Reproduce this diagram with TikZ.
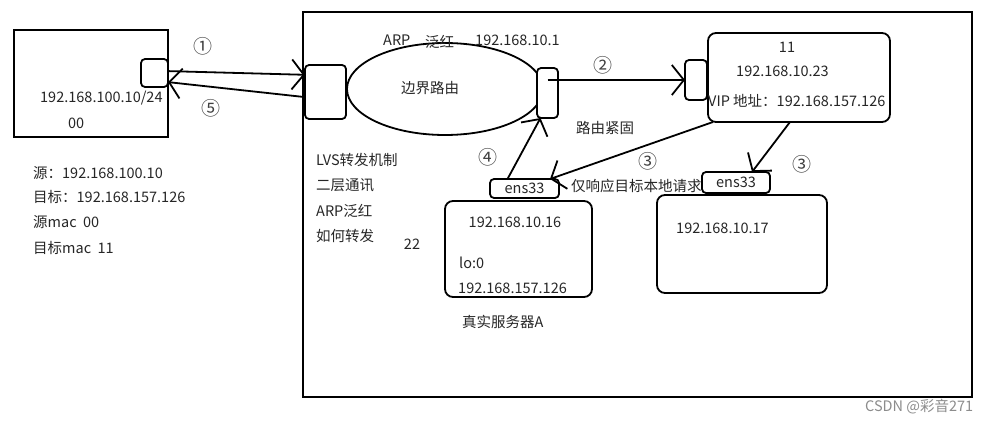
\documentclass[tikz,border=0pt]{standalone}
\usepackage{fontspec}
\setmainfont{Noto Sans CJK SC}
\usepackage{tikz}
\usetikzlibrary{shapes,arrows.meta}
\tikzstyle{ln}=[line width=1.8pt]
\tikzstyle{arr}=[line width=1.8pt, -{Straight Barb[length=12pt, width=30pt, line width=1.8pt]}]
\tikzstyle{bx}=[draw, line width=1.8pt, inner sep=0pt, outer sep=0pt]
\tikzstyle{rbx}=[bx, rounded corners=8pt]
\tikzstyle{port}=[bx, rounded corners=4pt]
\tikzstyle{rt}=[ellipse, bx, minimum width=196pt, minimum height=92pt]
\tikzstyle{txt}=[inner sep=0pt, text=black!85, font=\fontsize{14.5}{16}\selectfont]
\tikzstyle{lt}=[txt, anchor=west]
\tikzstyle{num}=[inner sep=0pt, text=black!75, font=\fontsize{19}{20}\selectfont]

\begin{document}
\begin{tikzpicture}[x=1pt, y=-1pt]
\useasboundingbox (0, 0) rectangle (993, 423);

% client side
\draw (91, 83.5) node (host) [bx, minimum width=154pt, minimum height=107pt] {};
\draw (154.5, 73) node (hostport) [port, fill=white, minimum width=27pt, minimum height=28pt] {};
\draw (40, 98) node (hostip) [lt] {192.168.100.10/24};
\draw (68, 123) node (hostmac) [lt] {00};

\draw (33, 173) node (src) [lt] {源：192.168.100.10};
\draw (33, 197) node (dst) [lt] {目标：192.168.157.126};
\draw (33, 222) node (srcmac) [lt] {源mac~~00};
\draw (33, 248) node (dstmac) [lt] {目标mac~~11};

% lvs area
\draw (637.5, 204.5) node (lvs) [bx, minimum width=669pt, minimum height=385pt] {};
\draw (445, 89) node (router) [rt] {};
\draw (430, 88) node (routertxt) [txt] {边界路由};
\draw (325.5, 92) node (inport) [port, fill=white, minimum width=41pt, minimum height=54pt] {};
\draw (547.5, 93) node (outport) [port, fill=white, minimum width=21pt, minimum height=50pt] {};

\draw (383, 40) node (arp) [lt] {ARP};
\draw (425, 42) node (flood) [lt] {泛红};
\draw (475, 40) node (gw) [lt] {192.168.10.1};
\draw (605, 128) node (fix) [txt] {路由紧固};

\draw (316, 160) node (m1) [lt] {LVS转发机制};
\draw (316, 185) node (m2) [lt] {二层通讯};
\draw (316, 211) node (m3) [lt] {ARP泛红};
\draw (316, 236) node (m4) [lt] {如何转发};
\draw (412, 244) node (n22) [txt] {22};

% director
\draw (799, 77.5) node (vip) [rbx, minimum width=182pt, minimum height=89pt] {};
\draw (696, 80) node (vipport) [port, fill=white, minimum width=22pt, minimum height=40pt] {};
\draw (787, 47) node (vipmac) [txt] {11};
\draw (736, 71) node (dip) [lt] {192.168.10.23};
\draw (708, 101) node (vipip) [lt] {VIP 地址：192.168.157.126};

% real server A
\draw (518.5, 249) node (srvA) [rbx, minimum width=147pt, minimum height=96pt] {};
\draw (524.5, 188.5) node (ensA) [port, fill=white, minimum width=69pt, minimum height=19pt, txt] {ens33};
\draw (515, 222) node (ripA) [txt] {192.168.10.16};
\draw (459, 263) node (lo) [lt] {lo:0};
\draw (458, 288) node (loip) [lt] {192.168.157.126};
\draw (462, 322) node (nameA) [lt] {真实服务器A};

% real server B
\draw (742, 244) node (srvB) [rbx, minimum width=170pt, minimum height=98pt] {};
\draw (736, 182.5) node (ensB) [port, fill=white, minimum width=68pt, minimum height=21pt, txt] {ens33};
\draw (676, 228) node (ripB) [lt] {192.168.10.17};

\draw (571, 186) node (only) [lt] {仅响应目标本地请求};

% flows
\draw [arr] (hostport.8) -- (inport.140);
\draw [arr] (inport.194) -- (hostport.-34);
\draw [arr] (outport.center |- vipport.west) -- (vipport.west);
\draw [arr] ([xshift=5pt]vip.south west) -- ([xshift=-9pt]ensA.north east);
\draw [arr] ([xshift=-9pt]vip.south) -- ([xshift=16pt]ensB.north);
\draw [arr] ([xshift=-17pt]ensA.north) -- ([xshift=-7pt]outport.south);

\draw (203, 46) node (s1) [num] {①};
\draw (211, 108) node (s5) [num] {⑤};
\draw (603, 65) node (s2) [num] {②};
\draw (488, 157) node (s4) [num] {④};
\draw (648, 161) node (s3a) [num] {③};
\draw (802, 164) node (s3b) [num] {③};

\draw (865, 407) node (mark) [lt, text=black!45] {CSDN @彩音271};

\end{tikzpicture}
\end{document}
